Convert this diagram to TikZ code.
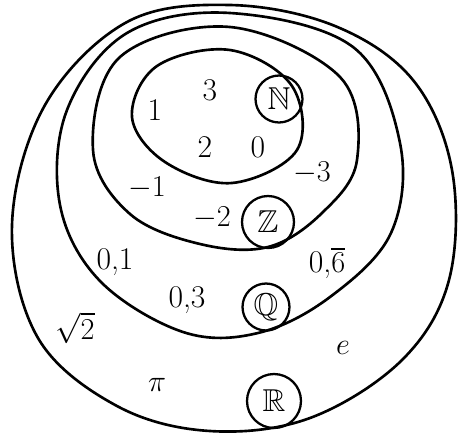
\documentclass[tikz,border=0pt]{standalone}
\usepackage{amsmath}
\usepackage{amssymb}
\usetikzlibrary{positioning}

\tikzset{
  setline/.style={line width=1.5pt, black},
  elem/.style={font=\fontsize{18}{20}\selectfont, inner sep=1pt},
  setlabel/.style={draw, circle, line width=1.3pt, minimum size=0.94cm,
                   inner sep=0pt, font=\fontsize{18}{20}\selectfont}
}

\begin{document}
\begin{tikzpicture}[x=0.02cm, y=-0.02cm]
  \useasboundingbox (0,0) rectangle (460,434);

  % the four sets, outside in
  \draw[setline] plot[smooth cycle, tension=0.6] coordinates {
    (230,5) (335,26) (413,80) (452,170) (449,280) (402,360) (310,418)
    (210,431) (117,406) (38,338) (12,225) (45,105) (127,22)};
  \draw[setline] plot[smooth cycle, tension=0.6] coordinates {
    (230,13) (353,47) (400,143) (391,233) (330,297) (258,333) (183,332)
    (100,281) (60,205) (67,110) (127,33)};
  \draw[setline] plot[smooth cycle, tension=0.6] coordinates {
    (230,27) (340,77) (357,160) (322,213) (268,247) (200,244) (130,214)
    (93,150) (120,57)};
  \draw[setline] plot[smooth cycle, tension=0.6] coordinates {
    (230,50) (292,86) (297,150) (232,183) (165,162) (132,117) (157,66)};

  % names of the sets
  \node[setlabel] (N) at (279,99) {$\mathbb{N}$};
  \node[setlabel, minimum size=1.04cm] (Z) at (268,222) {$\mathbb{Z}$};
  \node[setlabel] (Q) at (266,307) {$\mathbb{Q}$};
  \node[setlabel, minimum size=1.08cm] (R) at (274,401) {$\mathbb{R}$};

  % elements
  \node[elem] (one)   at (155,110) {1};
  \node[elem] (three) at (210,90)  {3};
  \node[elem] (two)   at (205,147) {2};
  \node[elem] (zero)  at (258,147) {0};
  \node[elem] (mone)  at (147,188) {$-1$};
  \node[elem] (mthree) at (312,173) {$-3$};
  \node[elem] (mtwo)  at (212,218) {$-2$};
  \node[elem] (zeroone) at (115,262) {0,1};
  \node[elem] (zerosix) at (327,263) {0,$\overline{6}$};
  \node[elem] (zerothree) at (187,300) {0,3};
  \node[elem] (sqrttwo) at (75,328) {$\sqrt{2}$};
  \node[elem] (euler) at (343,348) {$e$};
  \node[elem] (pi)    at (157,385) {$\pi$};
\end{tikzpicture}
\end{document}
